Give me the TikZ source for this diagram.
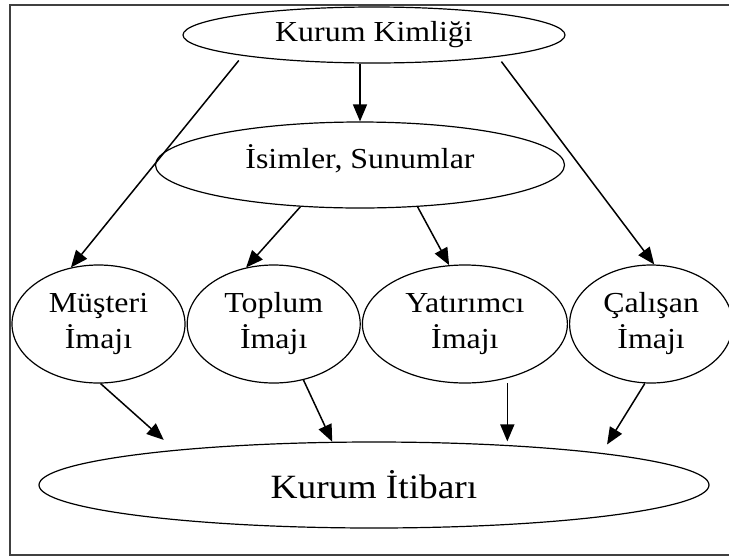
\documentclass[tikz,border=0pt]{standalone}
\usepackage{fontspec}
\setmainfont{Liberation Serif}[FakeStretch=1.1]
\usetikzlibrary{positioning, arrows.meta, shapes.geometric}

\begin{document}
\begin{tikzpicture}[
    x=1pt, y=-1pt,
    oval/.style={draw, ellipse, inner sep=0pt, line width=1.2pt, align=center, font=\fontsize{29}{36}\selectfont},
    rowoval/.style={oval, minimum height=118pt},
    arrow/.style={-{Triangle[length=17pt,width=14pt]}, line width=1.5pt},
    frameline/.style={draw=black!75, line width=2.2pt},
]
\useasboundingbox (0,0) rectangle (729,558);

% Frame
\draw[frameline] (740,5) -- (10,5) -- (10,555) -- (740,555);

% Identity and names
\node[oval, minimum width=382pt, minimum height=56pt] (kimlik) at (374,35) {Kurum Kimliği};
\node[oval, minimum width=409pt, minimum height=86pt, text depth=16pt] (isim) at (360,165) {İsimler, Sunumlar};

% Images
\node[rowoval, minimum width=173pt] (musteri) at (98.5,324) {Müşteri\\İmajı};
\node[rowoval, minimum width=173pt, right=1pt of musteri] (toplum) {Toplum\\İmajı};
\node[rowoval, minimum width=205pt, right=1pt of toplum] (yatirim) {Yatırımcı\\İmajı};
\node[rowoval, minimum width=163pt, right=1pt of yatirim] (calisan) {Çalışan\\İmajı};

% Reputation
\node[oval, minimum width=670pt, minimum height=86pt, font=\fontsize{34}{40}\selectfont] (itibar) at (374,485) {Kurum İtibarı};

% Connections: identity to names and images
\draw[arrow] (kimlik.south -| isim.north) -- (isim.north);
\draw[arrow, shorten <=6pt] (kimlik.189.6) -- (musteri.116);
\draw[arrow, shorten <=6pt] (kimlik.350) -- (calisan.87);

% Names to images
\draw[arrow] (isim.215.4) -- (toplum.116);
\draw[arrow] (isim.324.6) -- (yatirim.105.3);

% Images to reputation
\draw[arrow, shorten >=15pt] (musteri.272) -- (itibar.170.7);
\draw[arrow] (toplum.298.5) -- (itibar.134);
\draw[arrow, shorten <=5pt] (yatirim.308.7) -- (yatirim.308.7 |- itibar.north);
\draw[arrow, shorten >=10pt] (calisan.264) -- (itibar.8.5);

\end{tikzpicture}
\end{document}
